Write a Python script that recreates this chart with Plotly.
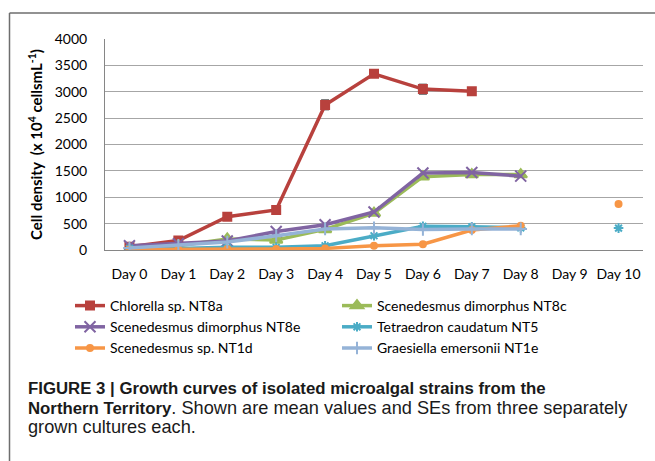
import plotly.graph_objects as go

days = ["Day 0", "Day 1", "Day 2", "Day 3", "Day 4", "Day 5", "Day 6", "Day 7", "Day 8", "Day 9", "Day 10"]

chlorella_nt8a = [60, 180, 630, 760, 2750, 3340, 3050, 3010, None, None, None]
chlorella_se = [10, 20, 20, 20, 90, 60, 90, 30, None, None, None]
scen_dimorphus_nt8c = [10, 80, 210, 190, 390, 700, 1390, 1430, 1430, None, None]
scen_dimorphus_nt8e = [80, 120, 170, 350, 480, 720, 1460, 1470, 1400, None, None]
tetraedron_nt5 = [30, 30, 50, 50, 80, 270, 450, 440, 420, None, 415]
scenedesmus_nt1d = [10, 10, 20, 20, 30, 80, 110, 380, 460, None, 870]
graesiella_nt1e = [40, 90, 150, 270, 400, 420, 390, 400, 400, None, None]

series = [
    ("Chlorella sp. NT8a", chlorella_nt8a, "#B8413D", "square", 8),
    ("Scenedesmus dimorphus NT8c", scen_dimorphus_nt8c, "#9BBB59", "triangle-up", 11),
    ("Scenedesmus dimorphus NT8e", scen_dimorphus_nt8e, "#8064A2", "x-thin-open", 11),
    ("Tetraedron caudatum NT5", tetraedron_nt5, "#4BACC6", "asterisk-open", 8),
    ("Scenedesmus sp. NT1d", scenedesmus_nt1d, "#F79646", "circle", 6),
    ("Graesiella emersonii NT1e", graesiella_nt1e, "#95B3D7", "cross-thin-open", 9),
]

fig = go.Figure()
for name, vals, col, sym, sz in series:
    kw = {}
    if name.startswith("Chlorella"):
        kw["error_y"] = dict(type="data", array=chlorella_se, color="black", thickness=1.2, width=4)
    fig.add_trace(go.Scatter(
        x=days, y=vals, name=name, mode="lines+markers",
        line=dict(color=col, width=3.5),
        marker=dict(symbol=sym, size=sz, color=col, line=dict(color=col, width=2)),
        **kw,
    ))

W, H = 655, 461
L, R, T, B = 105, 12, 39, 211
pw, ph = W - L - R, H - T - B

def px(x):
    return (x - L) / pw

def py(y):
    return (H - B - y) / ph

fig.update_layout(
    width=W, height=H,
    margin=dict(l=L, r=R, t=T, b=B, autoexpand=False),
    paper_bgcolor="white", plot_bgcolor="white",
    font=dict(family="Lato", size=14, color="black"),
    xaxis=dict(
        automargin=False, range=[-0.5, len(days) - 0.5],
        showgrid=False, showline=True, linecolor="#868686", linewidth=1,
        ticks="", tickfont=dict(family="Lato", size=14), ticklabelstandoff=11,
    ),
    yaxis=dict(
        automargin=False,
        range=[0, 4000], dtick=500, showgrid=True, gridcolor="#A6A6A6", gridwidth=1,
        showline=True, linecolor="#868686", linewidth=1, zeroline=False,
        ticks="", tickfont=dict(family="Lato", size=14), ticklabelstandoff=14,
        title=dict(
            text="<b>Cell density  (x 10<sup>4</sup> cellsmL<sup>-1</sup>)</b>",
            font=dict(family="Lato", size=15), standoff=8,
        ),
    ),
    showlegend=True,
    legend=dict(
        orientation="h", x=px(70), y=py(290), xanchor="left", yanchor="top",
        entrywidth=222, entrywidthmode="pixels",
        font=dict(family="Lato", size=14), tracegroupgap=0,
        itemclick=False,
    ),
)

fig.add_shape(type="line", xref="paper", yref="paper",
              x0=px(9.5), x1=px(670), y0=py(13), y1=py(13),
              line=dict(color="#6E6E6E", width=1.5))
fig.add_shape(type="line", xref="paper", yref="paper",
              x0=px(9.5), x1=px(9.5), y0=py(13), y1=py(475),
              line=dict(color="#6E6E6E", width=1.5))

cap_font = dict(family="Liberation Sans", size=16.8, color="#1a1a1a")
caption_lines = [
    (388, "<b>FIGURE 3 | Growth curves of isolated microalgal strains from the</b>"),
    (408, "<b>Northern Territory</b><span style='font-size:18.2px'>. Shown are mean values and SEs from three separately</span>"),
    (427, "<span style='font-size:18.2px'>grown cultures each.</span>"),
]
for yc, txt in caption_lines:
    fig.add_annotation(
        xref="paper", yref="paper", x=px(26), y=py(yc), xanchor="left", yanchor="middle",
        align="left", showarrow=False, text=txt, font=cap_font,
    )

fig.write_html("out.html", config={"displayModeBar": False},
               post_script="document.body.style.margin='0px';document.body.style.overflow='hidden';")
